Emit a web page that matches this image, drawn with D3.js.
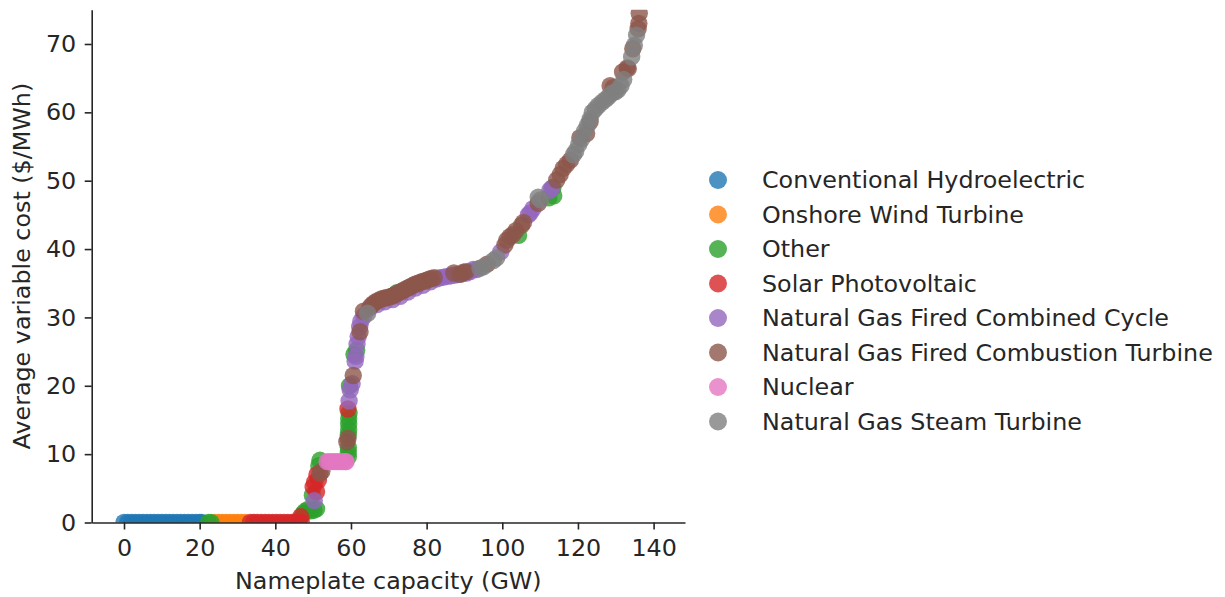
<!DOCTYPE html>
<html>
<head>
<meta charset="utf-8">
<script src="https://cdn.jsdelivr.net/npm/d3@7"></script>
<style>
  html, body { margin: 0; padding: 0; background: #fff; }
  svg { display: block; font-family: "DejaVu Sans", sans-serif; }
  .tick text { fill: #262626; }
</style>
</head>
<body>
<svg id="chart" width="1225" height="597"></svg>
<script>
// Generator technologies, in plotting order
const technologies = [
  "Conventional Hydroelectric",
  "Onshore Wind Turbine",
  "Other",
  "Solar Photovoltaic",
  "Natural Gas Fired Combined Cycle",
  "Natural Gas Fired Combustion Turbine",
  "Nuclear",
  "Natural Gas Steam Turbine"
];
const palette = ["#1f77b4", "#ff7f0e", "#2ca02c", "#d62728", "#9467bd", "#8c564b", "#e377c2", "#7f7f7f"];

// Points as [cumulative nameplate capacity (GW), average variable cost ($/MWh)]
const hydro = [
  [0,0],[1,0],[2,0],[3,0],[4,0],[5,0],[6,0],[7,0],[8,0],[9,0],[10,0],
  [11,0],[12,0],[13,0],[14,0],[15,0],[16,0],[17,0],[18,0],[19,0],[20,0],[20.5,0]
];
const wind = [
  [24,0],[25,0],[26,0],[27,0],[28,0],[29,0],[30,0],[31,0],[32,0]
];
const other = [
  [22.3,0],[23,0],[46.2,0.3],[47.4,1.3],[47.8,1.6],[48.6,1.9],[49.4,1.7],[50.2,1.8],
  [50.9,2.0],[49.8,4.0],[51.5,8.3],[51.8,9.1],[59.3,9.6],[59.3,10.3],[59.3,11.0],
  [59.3,12.8],[59.4,13.6],[59.4,14.4],[59.4,15.2],[59.5,16.0],[59.6,20.0],[60.8,24.6],
  [61.5,25.2],[72.1,33.6],[104.3,42.0],[112.3,47.5],[113.6,47.8],[113.4,49.0]
];
const solar = [
  [33.4,0],[34.3,0],[35.3,0],[36.3,0],[37.3,0],[38.3,0],[39.3,0],[40.3,0],[41.3,0],
  [42.3,0],[43.3,0],[44.3,0],[45.3,0],[46.2,0],[46.9,0],[46.7,0.85],[50.9,4.5],
  [50.0,5.2],[50.4,5.9],[51.4,6.2],[51.0,7.0],[59.2,16.6]
];
const combinedCycle = [
  [50.3,3.2],[59.5,17.8],[59.8,19.4],[60.3,20.3],[61.1,23.6],[61.3,24.3],[61.6,26.1],
  [61.9,27.2],[62.3,28.6],[62.6,29.4],[63.4,30.2],[65,31.4],[67,31.9],[69,32.3],
  [71,32.6],[73,33.1],[75,33.7],[77,34.3],[79,34.7],[81,35.2],[82.5,35.6],[83.5,35.8],
  [84.5,35.9],[85.5,36.0],[86.5,36.1],[87.5,36.2],[88.5,36.3],[89.5,36.4],[90.5,36.5],
  [91.5,36.7],[92.3,37.0],[93.2,37.0],[99.6,39.6],[106.9,45.0],[107.4,45.3],
  [108.1,45.9],[112.6,48.6],[113.1,48.9]
];
const combustionTurbine = [
  [51.8,7.2],[52.3,7.5],[58.9,11.8],[59.2,12.3],[60.6,21.5],[62.4,27.9],[63.3,30.9],
  [65.3,31.7],[65.9,32.0],[66.6,32.3],[67.3,32.5],[68,32.7],[68.7,32.8],[69.4,32.9],
  [70.1,33.0],[70.8,33.1],[71.5,33.3],[72.2,33.5],[72.9,33.7],[73.6,33.9],[74.3,34.1],
  [75,34.3],[75.7,34.5],[76.4,34.7],[77.1,34.9],[77.8,35.0],[78.5,35.2],[79.2,35.3],
  [79.9,35.4],[80.6,35.6],[81.3,35.7],[82,35.8],[87.2,36.5],[88.8,36.3],[89.7,36.6],
  [90.4,36.7],[96,37.8],[100.7,40.6],[101.2,41.3],[102,41.8],[102.8,42.1],[103.6,42.7],
  [105.1,43.5],[105.6,43.9],[109.5,46.7],[114.4,50.1],[115.3,50.9],[116.1,51.8],
  [117,52.4],[118,53.0],[120.5,56.3],[122.3,56.9],[123.2,58.6],[128.5,63.9],[129.3,63.6],
  [131.8,65.9],[133.0,66.5],[133.3,66.4],[134.5,69.3],[135.9,72.2],[136.1,73.0],
  [136.2,74.5],[136.4,76.5]
];
const nuclear = [
  [53.7,8.9],[54.3,8.9],[55,8.9],[55.7,8.9],[56.4,8.9],[57.1,8.9],[57.8,8.9],[58.5,8.9],[58.7,8.9]
];
const steamTurbine = [
  [64.4,30.6],[94.1,37.2],[95.0,37.4],[97.6,38.3],[98.5,38.7],[109.5,47.6],[110.1,47.2],
  [118.8,53.8],[119.4,54.3],[120.2,55.3],[121,56.1],[121.8,57.3],[122.5,58.1],[123.2,59.0],
  [123.8,60.0],[124.6,60.5],[125.4,61.0],[126.4,61.5],[127.3,61.9],[128.1,62.3],[129.0,62.8],
  [129.9,63.0],[130.6,63.3],[131.4,63.9],[132.1,64.8],[134.2,68.1],[134.9,69.8],[135.5,71.3]
];

const seriesPoints = [hydro, wind, other, solar, combinedCycle, combustionTurbine, nuclear, steamTurbine];

const xTicks = [0, 20, 40, 60, 80, 100, 120, 140];
const yTicks = [0, 10, 20, 30, 40, 50, 60, 70];

// Layout
const plot = { left: 91.7, right: 685, top: 9.8, bottom: 522.5 };
const ink = "#262626";
const fontSize = 23.8;

const svg = d3.select("#chart");

const x = d3.scaleLinear().domain([-8.54, 148.3]).range([plot.left, plot.right]);
const y = d3.scaleLinear().domain([0, 75]).range([plot.bottom, plot.top]);

svg.append("defs").append("clipPath").attr("id", "plot-clip")
  .append("rect")
  .attr("x", plot.left).attr("y", plot.top)
  .attr("width", plot.right - plot.left).attr("height", plot.bottom - plot.top);

// Scatter marks, one layer per technology
const marks = svg.append("g").attr("clip-path", "url(#plot-clip)");
seriesPoints.forEach((pts, i) => {
  marks.append("g")
    .selectAll("circle")
    .data(pts)
    .join("circle")
    .attr("cx", d => x(d[0]))
    .attr("cy", d => y(d[1]))
    .attr("r", 8.7)
    .attr("fill", palette[i])
    .attr("fill-opacity", 0.8);
});

// Axes (left and bottom spines only)
const xAxis = svg.append("g")
  .attr("transform", `translate(0,${plot.bottom})`)
  .call(d3.axisBottom(x).tickValues(xTicks).tickSize(7).tickSizeOuter(0).tickPadding(10));
const yAxis = svg.append("g")
  .attr("transform", `translate(${plot.left},0)`)
  .call(d3.axisLeft(y).tickValues(yTicks).tickSize(7).tickSizeOuter(0).tickPadding(8.5));

[xAxis, yAxis].forEach(g => {
  g.select(".domain").attr("stroke", ink).attr("stroke-width", 1.6);
  g.selectAll(".tick line").attr("stroke", ink).attr("stroke-width", 1.6);
  g.selectAll(".tick text").attr("font-size", fontSize).attr("font-family", "DejaVu Sans").attr("fill", ink);
});

// Axis titles
svg.append("text")
  .attr("x", (plot.left + plot.right) / 2)
  .attr("y", 588.5)
  .attr("text-anchor", "middle")
  .attr("font-size", fontSize)
  .attr("fill", ink)
  .text("Nameplate capacity (GW)");

svg.append("text")
  .attr("transform", `translate(22,${(plot.top + plot.bottom) / 2}) rotate(-90)`)
  .attr("dy", "0.35em")
  .attr("text-anchor", "middle")
  .attr("font-size", fontSize)
  .attr("fill", ink)
  .text("Average variable cost ($/MWh)");

// Legend
const legend = svg.append("g").attr("transform", "translate(718,180)");
const rows = legend.selectAll("g")
  .data(technologies)
  .join("g")
  .attr("transform", (d, i) => `translate(0,${i * 34.5})`);
rows.append("circle")
  .attr("r", 9)
  .attr("fill", (d, i) => palette[i])
  .attr("fill-opacity", 0.8);
rows.append("text")
  .attr("x", 44)
  .attr("dy", "0.35em")
  .attr("font-size", fontSize)
  .attr("fill", ink)
  .text(d => d);
</script>
</body>
</html>
